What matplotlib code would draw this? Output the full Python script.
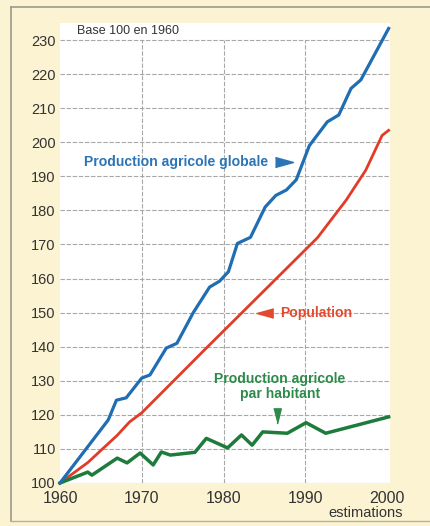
import matplotlib
matplotlib.use("Agg")
import matplotlib.pyplot as plt
from matplotlib.lines import Line2D

# ---- data (index, base 100 in 1960) ----
globale_years = [1960, 1965.9, 1966.9, 1968.1, 1970, 1971, 1973, 1974.3, 1976.3,
                 1978.3, 1979.5, 1980.6, 1981.7, 1983.3, 1985.1, 1986.4, 1987.7,
                 1988.9, 1990.5, 1992.7, 1994.1, 1995.6, 1996.8, 2000.2]
globale_vals = [100, 118.5, 124.3, 125, 130.8, 131.7, 139.6, 141, 150,
                157.5, 159.2, 162, 170.3, 172.1, 181, 184.4, 186,
                189, 199, 206, 208, 215.8, 218.3, 233.4]

pop_years = [1960, 1963.4, 1967, 1968.5, 1970, 1977.9, 1990.2, 1991.5, 1995,
             1997.4, 1999.4, 2000.2]
pop_vals = [100, 106, 114, 117.9, 120.6, 139.6, 168.9, 172, 183,
            191.8, 202, 203.5]

hab_years = [1960, 1963.4, 1963.9, 1967, 1968.2, 1969.8, 1971.4, 1972.4, 1973.5,
             1976.5, 1977.9, 1980.5, 1982.2, 1983.5, 1984.8, 1987.8, 1990.1,
             1992.5, 2000.2]
hab_vals = [100, 103.2, 102.3, 107.3, 105.9, 108.8, 105.3, 109.1, 108.2,
            109, 113.1, 110.3, 114.1, 111.1, 115, 114.6, 117.7,
            114.6, 119.4]

y_ticks = list(range(100, 231, 10))
x_ticks = [1960, 1970, 1980, 1990, 2000]
x_grid = [1970, 1980, 1990]

BLUE = "#1f6db3"
RED = "#e23c28"
GREEN = "#1d7b3b"
TXT = "#333333"
GRID = "#a8a8a8"

NARROW = ["Liberation Sans Narrow", "Liberation Sans", "DejaVu Sans"]
plt.rcParams["font.family"] = ["Liberation Sans", "DejaVu Sans"]

W, H = 431, 526
fig = plt.figure(figsize=(W / 100, H / 100), dpi=100, facecolor="#fbf3d2")

left, right, top, bottom = 60, 390, 23, 483
ax = fig.add_axes([left / W, 1 - bottom / H, (right - left) / W, (bottom - top) / H])
ax.set_facecolor("white")
ax.set_xlim(1960, 1960 + (right - left) / 8.175)
ax.set_ylim(100, 235)
for s in ax.spines.values():
    s.set_visible(False)

# grid
for v in y_ticks:
    ax.axhline(v, color=GRID, lw=0.8, ls=(0, (4, 1.5)), zorder=1)
for v in x_grid:
    ax.plot([v, v], [100, 230], color=GRID, lw=0.8, ls=(0, (4, 1.5)), zorder=1)

ax.set_yticks(y_ticks)
ax.set_xticks(x_ticks)
ax.tick_params(length=0, labelsize=10.5, colors=TXT)
ax.tick_params(axis="y", pad=3)
ax.tick_params(axis="x", pad=6, labelsize=11.5)

# series
ax.plot(globale_years, globale_vals, color=BLUE, lw=2.3, zorder=4, clip_on=False,
        solid_joinstyle="round")
ax.plot(pop_years, pop_vals, color=RED, lw=2.0, zorder=3, clip_on=False,
        solid_joinstyle="round")
ax.plot(hab_years, hab_vals, color=GREEN, lw=2.5, zorder=3, clip_on=False,
        solid_joinstyle="round")

# labels and pointer triangles
ax.text(1985.4, 194.1, "Production agricole globale", color="#2a74b8",
        fontsize=10.1, fontweight="bold", family=NARROW, ha="right", va="center")
ax.plot([1987.4], [194.1], marker=[(-1, -0.55), (1, 0), (-1, 0.55)],
        markersize=13, color="#2a74b8", ls="none")

ax.text(1986.9, 149.9, "Population", color="#e24a2e", fontsize=10.1,
        fontweight="bold", family=NARROW, ha="left", va="center")
ax.plot([1985.1], [149.9], marker=[(1, -0.55), (-1, 0), (1, 0.55)],
        markersize=12, color="#e24a2e", ls="none")

ax.text(1986.9, 128.2, "Production agricole\npar habitant", color="#2e8a4a",
        fontsize=10.1, fontweight="bold", family=NARROW, ha="center", va="center",
        linespacing=1.1)
ax.plot([1986.6], [119.8], marker=[(-0.5, 1), (0.5, 1), (0, -1)],
        markersize=11, color="#2e8a4a", ls="none")

ax.text(1962.1, 232.6, "Base 100 en 1960", color=TXT, fontsize=9,
        family=NARROW, ha="left", va="center")

fig.text(403 / W, 1 - 513 / H, "estimations", color=TXT, fontsize=10.5,
         ha="right", va="center")

# page frame
fig.add_artist(Line2D([11 / W, 11 / W], [1 - 7 / H, 1 - 521 / H], color="#9c9a8c",
                      lw=1.2, transform=fig.transFigure))
fig.add_artist(Line2D([11 / W, 1], [1 - 7 / H, 1 - 7 / H], color="#9c9a8c",
                      lw=1.2, transform=fig.transFigure))
fig.add_artist(Line2D([11 / W, 1], [1 - 521 / H, 1 - 521 / H], color="#b8b29a",
                      lw=1.0, transform=fig.transFigure))

fig.savefig("out.png", dpi=100, facecolor=fig.get_facecolor())
